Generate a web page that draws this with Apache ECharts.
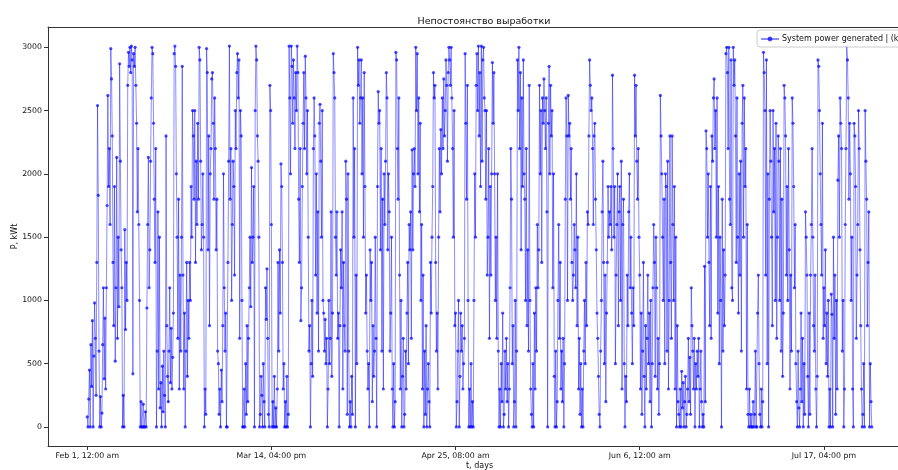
<!DOCTYPE html>
<html>
<head>
<meta charset="utf-8">
<script src="https://cdn.jsdelivr.net/npm/echarts@6/dist/echarts.min.js"></script>
<style>
  html, body { margin: 0; padding: 0; background: #fff; }
  #chart { width: 898px; height: 470px; }
</style>
</head>
<body>
<div id="chart"></div>
<script>
// Generated power, kW, sampled every 4 hours starting Feb 1, 00:00
const STEP_HOURS = 4;
const febPower = [
  80, 0, 220, 450, 0, 650, 320, 840, 0, 560,
  980, 700, 250, 1300, 2540, 1830, 600, 0, 240, 0,
  110, 650, 1100, 380, 860, 300, 1100, 1750, 2620, 1900,
  2200, 1600, 2990, 2750, 2300, 1300, 800, 1900, 520, 1100,
  2130, 700, 1500, 950, 2870, 2100, 1400, 1100, 0, 250,
  0, 1560, 770, 1300, 1000, 2700, 2960, 2850, 3000, 2800,
  3010, 2900, 420, 2950, 2850, 3000, 2700, 2400, 1700, 2200,
  1600, 1000, 0, 200, 0, 0, 180, 0, 0, 120,
  0, 940, 1600, 2130, 1100, 1400, 2100, 2600, 3000, 2950,
  2400, 1800, 1300, 2200, 0, 600, 1700, 300, 1500, 150,
  350, 0, 480, 120, 600, 250, 0, 2300, 800, 400,
  200, 600, 1100, 350, 780, 300, 550, 900, 2950, 3010,
  2850, 2000, 1500, 700, 1800, 300, 1200, 600, 1500, 2850,
  1200, 300, 900, 0, 600, 1300, 400, 1000, 700, 1300,
  1000, 1900, 1500, 2500, 2300, 1800, 2500, 1300, 2100, 1600,
  2400, 1800, 3000, 2900, 2100, 1400, 1600, 2000, 1500, 0,
  300, 100, 2990, 2800, 1400, 2300, 800, 2000
];
const marPower = [
  2200, 2750, 2800, 2400, 1800, 2600, 2200, 1400, 1800, 600,
  500, 100, 300, 0, 450, 200, 800, 2000, 1100, 600,
  900, 0, 0, 1300, 2100, 3010, 1800, 2200, 1000, 1600,
  2100, 1900, 1200, 2500, 2200, 2800, 2950, 2600, 2900, 700,
  2500, 2300, 1000, 0, 0, 300, 0, 500, 100, 800,
  200, 700, 1100, 1500, 950, 2050, 1300, 1500, 1900, 0,
  2500, 3010, 2900, 2300, 2100, 1500, 0, 100, 400, 250,
  0, 500, 200, 0, 1100, 850, 1250, 700, 100, 0,
  2700, 2500, 1600, 0, 200, 0, 400, 0, 150, 0,
  300, 1300, 600, 1400, 900, 2080, 1900, 1300, 300, 500,
  0, 200, 0, 400, 0, 100, 3010, 2600, 2000, 3010,
  2850, 2400, 2900, 2600, 2200, 2800, 2500, 3010, 2800, 1800,
  1300, 2200, 840, 1100, 1900, 2400, 2800, 2200, 2930, 2600,
  2000, 2500, 1500, 600, 800, 0, 500, 1000, 400, 2200,
  2600, 2300, 1200, 2000, 900, 1700, 600, 2400, 2550, 2100,
  1500, 2500, 1000, 900, 600, 850, 500, 700, 0, 300,
  1000, 500, 700, 1700, 400, 900, 2950, 2800, 2600, 1500,
  1200, 1700, 700, 900, 0, 800, 1400, 1100, 1700, 300,
  1300, 800, 600, 2100, 1800, 100
];
const aprPower = [
  2000, 600, 0, 200, 0, 400, 100, 2600, 1500, 2200,
  0, 1200, 500, 3000, 2700, 2900, 2400, 2600, 2900, 2000,
  2600, 1500, 2800, 1900, 900, 1200, 600, 300, 500, 0,
  1400, 1000, 1300, 200, 800, 400, 600, 1500, 700, 0,
  1900, 2650, 2400, 2500, 1400, 2200, 600, 1800, 300, 2000,
  1600, 2100, 2800, 2600, 1400, 2000, 1700, 600, 900, 1500,
  300, 0, 500, 0, 200, 2960, 2900, 2200, 1800, 2600,
  1200, 300, 1000, 0, 400, 700, 0, 100, 600, 300,
  900, 1300, 500, 1600, 1400, 1700, 700, 2190, 1400, 2000,
  2200, 1900, 3000, 2500, 2950, 2000, 2600, 1700, 2400, 1000,
  1600, 300, 1200, 0, 600, 100, 800, 0, 300, 500,
  200, 0, 1300, 900, 1500, 1900, 2800, 2600, 2700, 1300,
  600, 900, 300, 1500, 2200, 1700, 2350, 2000, 2600, 2200,
  2750, 2300, 2500, 2900, 2700, 2100, 2800, 3000, 2900, 2700,
  3000, 2600, 2200, 1500, 2500, 800, 900, 0, 200, 600,
  1000, 0, 400, 900, 600, 800, 300, 500, 700, 2950,
  2400, 1800, 2700, 1000, 0, 300, 0, 500, 0, 200,
  0, 1000, 2000, 1500, 2700, 2950, 2500, 3010, 2300, 2800
];
const mayPower = [
  1900, 3010, 2100, 2900, 3000, 2600, 2500, 1800, 2500, 1200,
  1500, 2200, 700, 1900, 1200, 2000, 2880, 2400, 2800, 2000,
  1000, 1500, 700, 2000, 600, 0, 300, 0, 500, 200,
  900, 0, 100, 600, 300, 700, 200, 500, 0, 300,
  1100, 2200, 1800, 500, 800, 0, 200, 1000, 0, 600,
  2900, 2500, 3000, 2200, 2800, 1400, 2600, 1900, 2900, 2000,
  1800, 1000, 2200, 800, 1400, 600, 2700, 1000, 300, 100,
  0, 500, 0, 900, 300, 1100, 600, 1600, 1100, 1400,
  2700, 2000, 2500, 1300, 2600, 2400, 2750, 2500, 2200, 2600,
  1700, 0, 2400, 2850, 2000, 2700, 2300, 2500, 1100, 2000,
  400, 0, 600, 0, 200, 1000, 1600, 700, 1300, 300,
  600, 200, 700, 0, 500, 1800, 2600, 2300, 1000, 2620,
  2300, 2400, 1800, 2200, 1300, 1000, 1200, 1600, 1400, 1100,
  2000, 800, 1500, 300, 700, 100, 500, 0, 300, 0,
  600, 1000, 500, 1300, 800, 1700, 1600, 2300, 2900, 2700,
  2500, 2600, 2200, 1600, 2300, 2400, 1800, 1400, 900, 700,
  400, 100, 0, 600, 1000, 1700, 2100, 1300, 500, 1200,
  200, 900, 1300, 1900, 1500, 1700, 1600, 1900, 1400, 2780,
  2200, 1500, 1900, 500, 1200, 1600
];
const junPower = [
  2000, 800, 1700, 1900, 1000, 2100, 300, 1600, 1800, 500,
  0, 400, 200, 1200, 800, 1700, 2000, 1100, 1500, 900,
  500, 1100, 800, 2780, 2300, 2700, 2100, 1800, 2200, 1500,
  1200, 300, 900, 100, 600, 1300, 400, 0, 800, 300,
  700, 1200, 500, 900, 200, 1000, 0, 500, 1100, 1600,
  1300, 400, 1500, 1100, 300, 700, 100, 500, 2620, 2300,
  2000, 1500, 1000, 1800, 500, 2000, 1900, 600, 2100, 300,
  1000, 2300, 1300, 700, 2300, 1600, 1000, 1900, 300, 1500,
  0, 800, 200, 100, 0, 300, 0, 440, 150, 350,
  0, 200, 400, 0, 100, 300, 700, 200, 550, 100,
  1100, 800, 600, 300, 700, 0, 500, 300, 600, 400,
  700, 0, 300, 600, 200, 0, 100, 0, 1270, 200,
  2340, 2200, 1500, 2000, 1300, 800, 1900, 700, 2300, 2100,
  2600, 2750, 2200, 2500, 1500, 2600, 900, 1900, 500, 1500,
  1000, 0, 1800, 600, 1400, 800, 1200, 2950, 3000, 2800,
  2200, 3000, 1800, 1600, 2900, 1100, 1000, 3000, 2700, 2900,
  2300, 1300, 2600, 1500, 900, 2000, 1200, 2100, 600, 2400,
  2700, 1500, 2600, 1900, 2200, 300, 1600, 100, 0, 300
];
const julPower = [
  0, 100, 0, 0, 200, 0, 100, 600, 0, 0,
  900, 1200, 500, 100, 0, 300, 0, 200, 2960, 2800,
  2500, 1200, 2900, 500, 2000, 0, 1800, 2500, 2100, 1500,
  800, 2500, 1700, 2200, 1000, 2400, 700, 1500, 2300, 2100,
  1000, 2200, 600, 1800, 400, 900, 2700, 2600, 2300, 1200,
  1900, 1000, 2200, 1400, 300, 1200, 600, 2600, 2400, 1900,
  1100, 1600, 500, 200, 0, 600, 150, 0, 300, 900,
  200, 700, 0, 500, 100, 1700, 1500, 1200, 400, 0,
  900, 100, 1200, 1600, 2200, 1500, 800, 600, 1200, 300,
  0, 400, 2900, 2850, 2500, 2000, 1600, 1200, 2400, 700,
  1100, 800, 1400, 500, 900, 400, 1000, 0, 300, 0,
  1050, 890, 0, 1500, 700, 1200, 100, 1000, 300, 1950,
  2300, 1500, 2600, 2400, 2200, 600, 1000, 0, 300, 1600,
  2200, 3010, 2900, 2600, 1800, 2400, 2000, 1000, 1500, 300,
  0, 2400, 2300, 1900, 700, 1200, 1600, 2500, 2200, 1400,
  800, 300, 0, 100, 500, 0, 2500, 2100, 1800, 800,
  1300, 1700, 0, 500, 200, 0
];

// Tick positions (hours from the start) and power ticks
const xTickHours = [0, 1000, 2000, 3000, 4000];
const yTicks = [0, 500, 1000, 1500, 2000, 2500, 3000];

const START = Date.UTC(2021, 1, 1, 0, 0);
const MONTHS = ['Jan','Feb','Mar','Apr','May','Jun','Jul','Aug','Sep','Oct','Nov','Dec'];
function fmtHour(h) {
  const d = new Date(START + h * 3600e3);
  const hr = d.getUTCHours();
  const h12 = hr % 12 === 0 ? 12 : hr % 12;
  const mm = String(d.getUTCMinutes()).padStart(2, '0');
  return MONTHS[d.getUTCMonth()] + ' ' + d.getUTCDate() + ', ' +
    String(h12).padStart(2, '0') + ':' + mm + ' ' + (hr < 12 ? 'am' : 'pm');
}

const power = [].concat(febPower, marPower, aprPower, mayPower, junPower, julPower);
const seriesData = power.map((v, i) => [i * STEP_HOURS, v]);
const lastHour = (power.length - 1) * STEP_HOURS;
const xPad = lastHour * 0.05;
const yMaxData = Math.max.apply(null, power);
const yPad = yMaxData * 0.05;

const FONT = 'DejaVu Sans';
const chart = echarts.init(document.getElementById('chart'), null, { renderer: 'canvas' });
chart.setOption({
  animation: false,
  backgroundColor: '#ffffff',
  textStyle: { fontFamily: FONT },
  title: {
    text: 'Непостоянство выработки',
    left: 479, top: 12, textAlign: 'center',
    textStyle: { fontFamily: FONT, fontSize: 9.5, fontWeight: 'normal', color: '#111' }
  },
  legend: {
    left: 757, top: 30,
    padding: [5, 6, 4, 3],
    itemWidth: 18, itemHeight: 6, itemGap: 4,
    backgroundColor: 'rgba(255,255,255,0.9)',
    borderColor: '#cccccc', borderWidth: 1, borderRadius: 3,
    textStyle: { fontFamily: FONT, fontSize: 8, color: '#111', padding: [0, 0, 0, -2] },
    data: ['System power generated | (kW)']
  },
  grid: { left: 48, right: -13, top: 27, bottom: 24, containLabel: false, outerBoundsMode: 'none' },
  xAxis: [{
    type: 'value',
    min: -xPad, max: lastHour + xPad,
    name: 't, days', nameLocation: 'middle', nameGap: 16, nameMoveOverlap: false,
    nameTextStyle: { fontFamily: FONT, fontSize: 8, color: '#111' },
    axisLine: { show: true, onZero: false, lineStyle: { color: '#333', width: 1 } },
    axisTick: { show: true, length: 4, customValues: xTickHours, lineStyle: { color: '#333' } },
    axisLabel: { customValues: xTickHours, formatter: fmtHour, margin: 6,
      fontFamily: FONT, fontSize: 7.8, color: '#111' },
    splitLine: { show: false }
  }, {
    type: 'value', position: 'top',
    min: -xPad, max: lastHour + xPad,
    axisLine: { show: true, onZero: false, lineStyle: { color: '#333', width: 1 } },
    axisTick: { show: false }, axisLabel: { show: false }, splitLine: { show: false }
  }],
  yAxis: {
    type: 'value',
    min: -yPad, max: yMaxData + yPad,
    name: 'P, kWt', nameLocation: 'middle', nameGap: 29, nameRotate: 90, nameMoveOverlap: false,
    nameTextStyle: { fontFamily: FONT, fontSize: 8, color: '#111' },
    axisLine: { show: true, onZero: false, lineStyle: { color: '#333', width: 1 } },
    axisTick: { show: true, length: 4, customValues: yTicks, lineStyle: { color: '#333' } },
    axisLabel: { customValues: yTicks, formatter: v => String(v), margin: 6,
      fontFamily: FONT, fontSize: 7.8, color: '#111' },
    splitLine: { show: false }
  },
  series: [{
    name: 'System power generated | (kW)',
    type: 'line',
    xAxisIndex: 0,
    data: seriesData,
    showSymbol: true, showAllSymbol: true,
    symbol: 'circle', symbolSize: 3.2,
    sampling: null,
    lineStyle: { color: 'rgba(0,0,255,0.45)', width: 1 },
    itemStyle: { color: 'rgba(0,0,255,0.7)', borderWidth: 0 },
    emphasis: { disabled: true }
  }]
});
</script>
</body>
</html>
